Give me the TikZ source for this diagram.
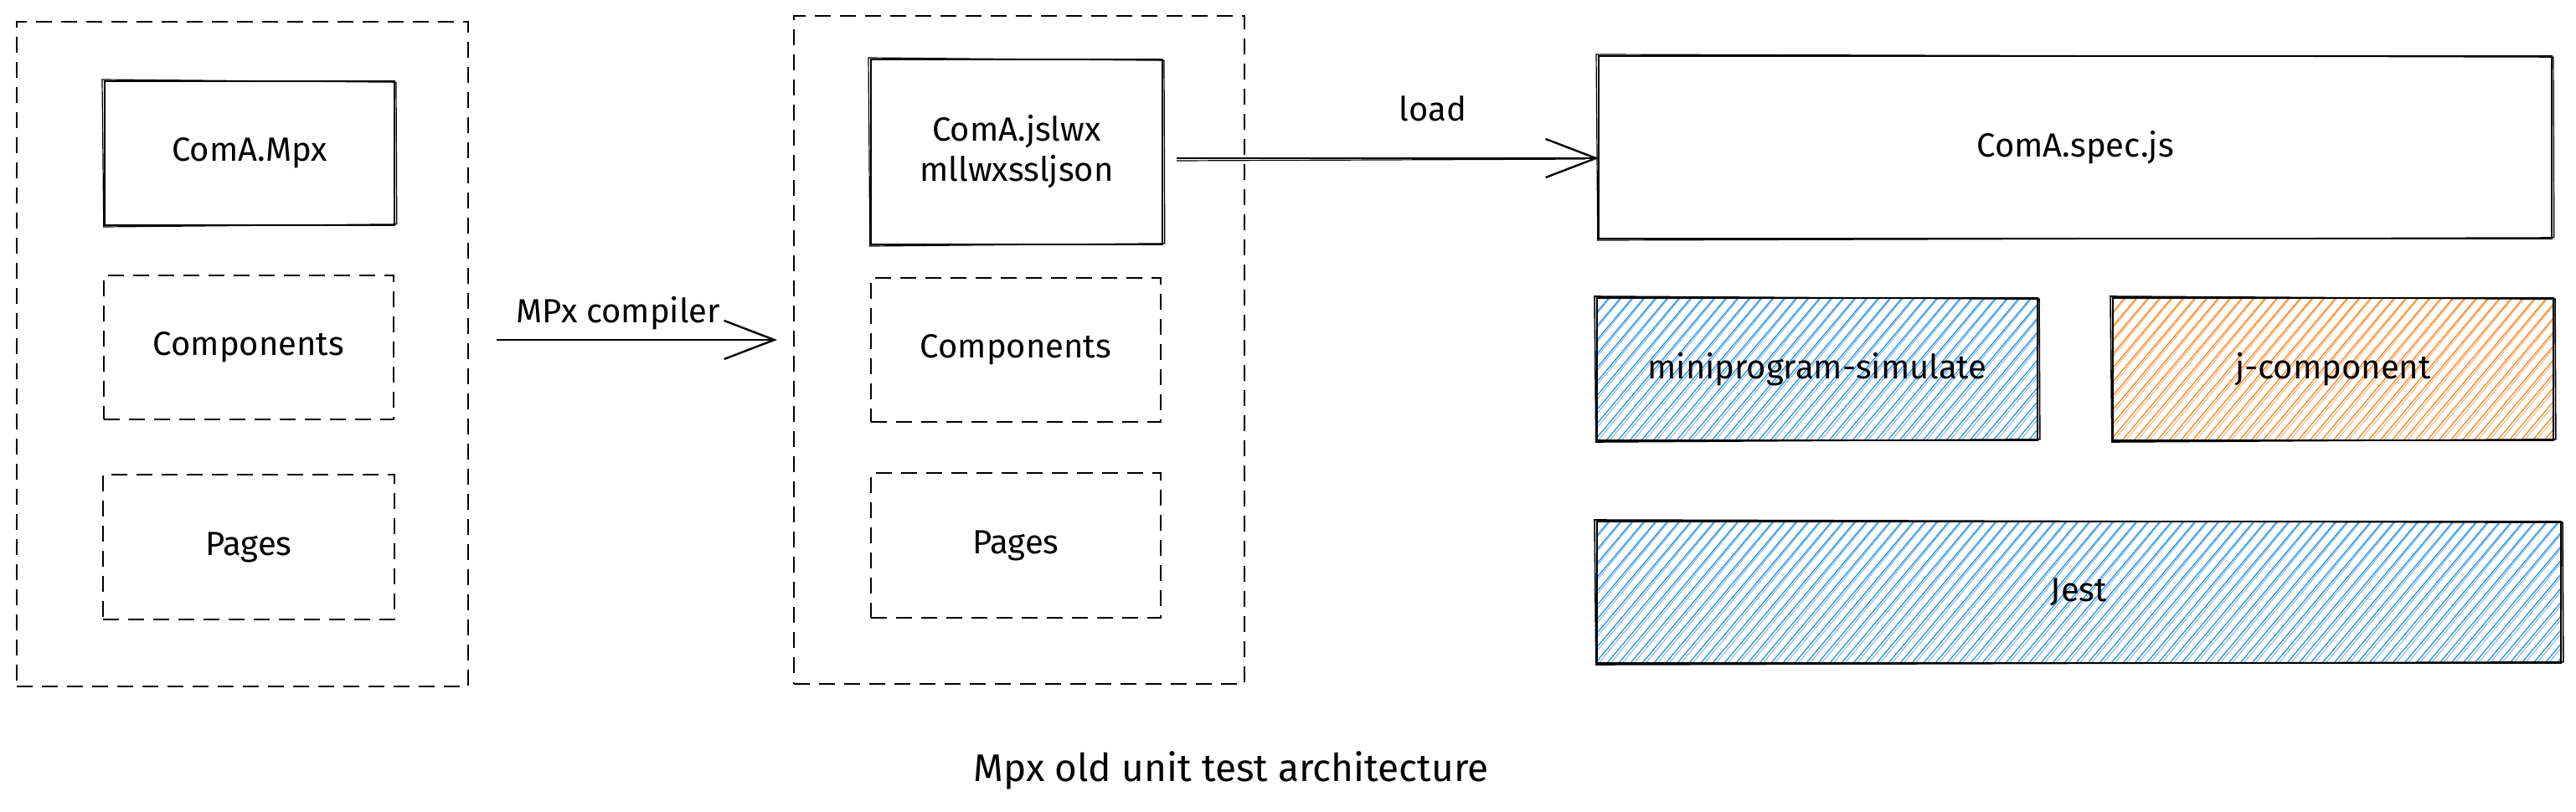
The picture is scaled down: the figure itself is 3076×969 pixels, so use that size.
\documentclass[tikz,border=0pt]{standalone}
\usepackage{fontspec}
\setmainfont{Fira Sans}
\usetikzlibrary{arrows.meta}
\definecolor{hblue}{HTML}{228BE6}
\definecolor{horange}{HTML}{FD7E14}
\newcommand\hatchbox[5]{%
  \begin{scope}
    \clip (#1,#2) rectangle (#3,#4);
    \pgfmathsetmacro\hdx{(#4-#2)/1.19}
    \pgfmathsetmacro\hst{#1-\hdx}
    \pgfmathsetmacro\hnx{\hst+14}
    \foreach \s in {\hst,\hnx,...,#3}{
      \draw[#5, line width=0.6pt] (\s,#4) -- ++(\hdx,#2-#4);
      \draw[#5!70!white, line width=0.4pt] (\s+3.5,#4+1) -- ++(\hdx-1,#2-#4-2);
    }
  \end{scope}}
\newcommand\rough[2][0.6pt]{%
  \draw[line width=#1] ([shift={(-1.5pt,1pt)}]#2.north west) -- ([shift={(1pt,-0.6pt)}]#2.north east)
    -- ([shift={(1.4pt,0.6pt)}]#2.south east) -- ([shift={(-0.6pt,-1pt)}]#2.south west) -- cycle;}
\begin{document}
\begin{tikzpicture}[x=0.5pt,y=-0.5pt,
  txt/.style={font=\fontsize{20}{24}\selectfont, text=black, align=center},
  solidbox/.style={txt, draw, line width=1.2pt, inner sep=0pt, outer sep=0pt},
  dashbox/.style={txt, draw, line width=1.25pt, dash pattern=on 9.5pt off 5.5pt, inner sep=0pt, outer sep=0pt},
  fillbox/.style={txt, draw, line width=1.4pt, inner sep=0pt, outer sep=0pt},
  sz/.style 2 args={minimum width=#1pt, minimum height=#2pt},
  arr/.style={line width=1.2pt, -{Straight Barb[length=30pt,width=23pt,line width=1.2pt]}}]
\fill[white] (0,0) rectangle (3076,969);
\useasboundingbox (0,0) rectangle (3076,969);

% hachure fills
\hatchbox{1907}{356}{2433}{526}{hblue}
\hatchbox{2523}{356}{3049}{526}{horange}
\hatchbox{1907}{623}{3058}{792}{hblue}

% left group
\node[dashbox, sz={269.5}{397}] (outer1) at (289.5,423) {};
\node[solidbox, sz={173}{86}] (mpx) at (298,183) {ComA.Mpx};
\rough{mpx}
\node[dashbox, sz={173}{86}] (comp1) at (297,415) {Components};
\node[dashbox, sz={174}{86.5}] (pages1) at (297,653.5) {Pages};

% middle group
\node[dashbox, sz={269}{399}] (outer2) at (1217,418) {};
\node[solidbox, sz={174}{110.5}] (jsl) at (1214,181.5) {ComA.jslwx\\mllwxssljson};
\rough{jsl}
\node[dashbox, sz={173}{86}] (comp2) at (1213,418) {Components};
\node[dashbox, sz={173}{86.5}] (pages2) at (1213,651.5) {Pages};

% right group
\node[solidbox, sz={569}{109}] (spec) at (2478,176) {ComA.spec.js};
\rough{spec}
\node[fillbox, sz={263}{85}] (sim) at (2170,441) {miniprogram-simulate};
\rough[0.8pt]{sim}
\node[fillbox, sz={263}{85}] (jcomp) at (2786,441) {j-component};
\rough[0.8pt]{jcomp}
\node[fillbox, sz={575.5}{84.5}] (jest) at (2482.5,707.5) {Jest};
\rough[0.8pt]{jest}

% connectors
\coordinate (cy1) at (0,406);
\coordinate (cy2) at (0,189);
\draw[arr, shorten <=17pt, shorten >=10pt] (outer1.east |- cy1) -- (outer2.west |- cy1);
\node[txt] (lcomp) at (738,374) {MPx compiler};
\draw[arr, shorten <=8.5pt] (jsl.east |- cy2) -- (spec.west |- cy2);
\draw[line width=0.6pt] ([shift={(8.5pt,-1.5pt)}]jsl.east |- cy2) -- ([shift={(-8pt,-0.5pt)}]spec.west |- cy2);
\node[txt] (lload) at (1711,130) {load};

% caption
\node[txt, font=\fontsize{23}{27}\selectfont] (caption) at (1470,920) {Mpx old unit test architecture};
\end{tikzpicture}
\end{document}
